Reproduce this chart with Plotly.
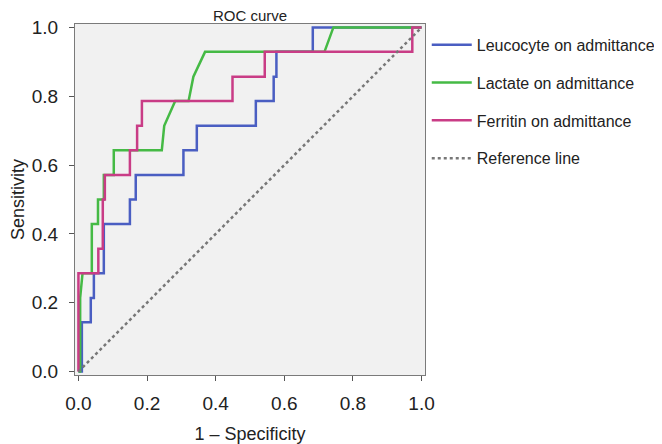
import plotly.graph_objects as go

# ROC curve data (1 - Specificity, Sensitivity)
leuco_fpr = [0.0, 0.01, 0.01, 0.01, 0.036, 0.036, 0.045, 0.045, 0.074, 0.074, 0.074, 0.15, 0.15, 0.167, 0.167,
             0.306, 0.306, 0.345, 0.345, 0.517, 0.517, 0.569, 0.569, 0.577, 0.577, 0.683, 0.683, 1.0]
leuco_tpr = [0.0, 0.0, 0.071, 0.143, 0.143, 0.214, 0.214, 0.286, 0.286, 0.357, 0.429, 0.429, 0.5, 0.5, 0.571,
             0.571, 0.643, 0.643, 0.714, 0.714, 0.786, 0.786, 0.857, 0.857, 0.929, 0.929, 1.0, 1.0]

lact_fpr = [0.0, 0.005, 0.005, 0.012, 0.039, 0.039, 0.057, 0.057, 0.074, 0.074, 0.103, 0.103, 0.243, 0.25,
            0.282, 0.321, 0.335, 0.369, 0.717, 0.743, 1.0]
lact_tpr = [0.0, 0.0, 0.214, 0.286, 0.286, 0.429, 0.429, 0.5, 0.5, 0.571, 0.571, 0.643, 0.643, 0.714,
            0.786, 0.786, 0.857, 0.929, 0.929, 1.0, 1.0]

ferr_fpr = [0.0, 0.0, 0.058, 0.058, 0.071, 0.071, 0.077, 0.077, 0.15, 0.15, 0.171, 0.171, 0.185, 0.185,
            0.449, 0.449, 0.543, 0.543, 0.973, 0.973, 1.0]
ferr_tpr = [0.0, 0.286, 0.286, 0.357, 0.357, 0.5, 0.5, 0.571, 0.571, 0.643, 0.643, 0.714, 0.714, 0.786,
            0.786, 0.857, 0.857, 0.929, 0.929, 1.0, 1.0]

ref_x = [0.0, 1.0]
ref_y = [0.0, 1.0]

tick_vals = [0.0, 0.2, 0.4, 0.6, 0.8, 1.0]

FONT = "Liberation Sans, Arial, Helvetica, sans-serif"

fig = go.Figure()
fig.add_trace(go.Scatter(x=leuco_fpr, y=leuco_tpr, mode="lines", name="Leucocyte on admittance",
                         legendgroup="a", line=dict(color="#4a5ec2", width=2.5)))
fig.add_trace(go.Scatter(x=lact_fpr, y=lact_tpr, mode="lines", name="Lactate on admittance",
                         legendgroup="b", line=dict(color="#45ba45", width=2.5)))
fig.add_trace(go.Scatter(x=ferr_fpr, y=ferr_tpr, mode="lines", name="Ferritin on admittance",
                         legendgroup="c", line=dict(color="#c93c86", width=2.5)))
fig.add_trace(go.Scatter(x=ref_x, y=ref_y, mode="lines", name="Reference line",
                         legendgroup="d", line=dict(color="#777777", width=2.5, dash="dot")))

axis_common = dict(
    range=[-0.01, 1.01], tickvals=tick_vals, tickformat=".1f", automargin=False,
    showgrid=False, zeroline=False, showline=True, mirror=True,
    linecolor="#7a7a7a", linewidth=1, ticks="outside", ticklen=5, tickcolor="#555555",
    tickfont=dict(size=19, color="#222222", family=FONT), fixedrange=True,
)

# the page body has an 8px margin, so the figure is drawn 8px smaller and offset
fig.update_layout(
    width=654, height=436,
    margin=dict(l=67, r=237, t=16, b=69, autoexpand=False),
    paper_bgcolor="white", plot_bgcolor="#f1f1f1",
    font=dict(family=FONT, color="#222222"),
    title=dict(text="ROC curve", x=242 / 654, xanchor="center", y=1 - 2 / 436, yanchor="top",
               pad=dict(t=0, b=0), font=dict(size=15, color="#222222", family=FONT)),
    xaxis=dict(axis_common, ticklabelstandoff=6,
               title=dict(text="1 – Specificity", font=dict(size=18, family=FONT), standoff=14)),
    yaxis=dict(axis_common, ticklabelstandoff=7,
               title=dict(text="Sensitivity", font=dict(size=18, family=FONT), standoff=13)),
    legend=dict(x=1.005, xanchor="left", y=0.989, yanchor="top", font=dict(size=16, family=FONT),
                itemwidth=40, tracegroupgap=14, bgcolor="rgba(0,0,0,0)"),
    showlegend=True,
)

fig.write_html("out.html")
